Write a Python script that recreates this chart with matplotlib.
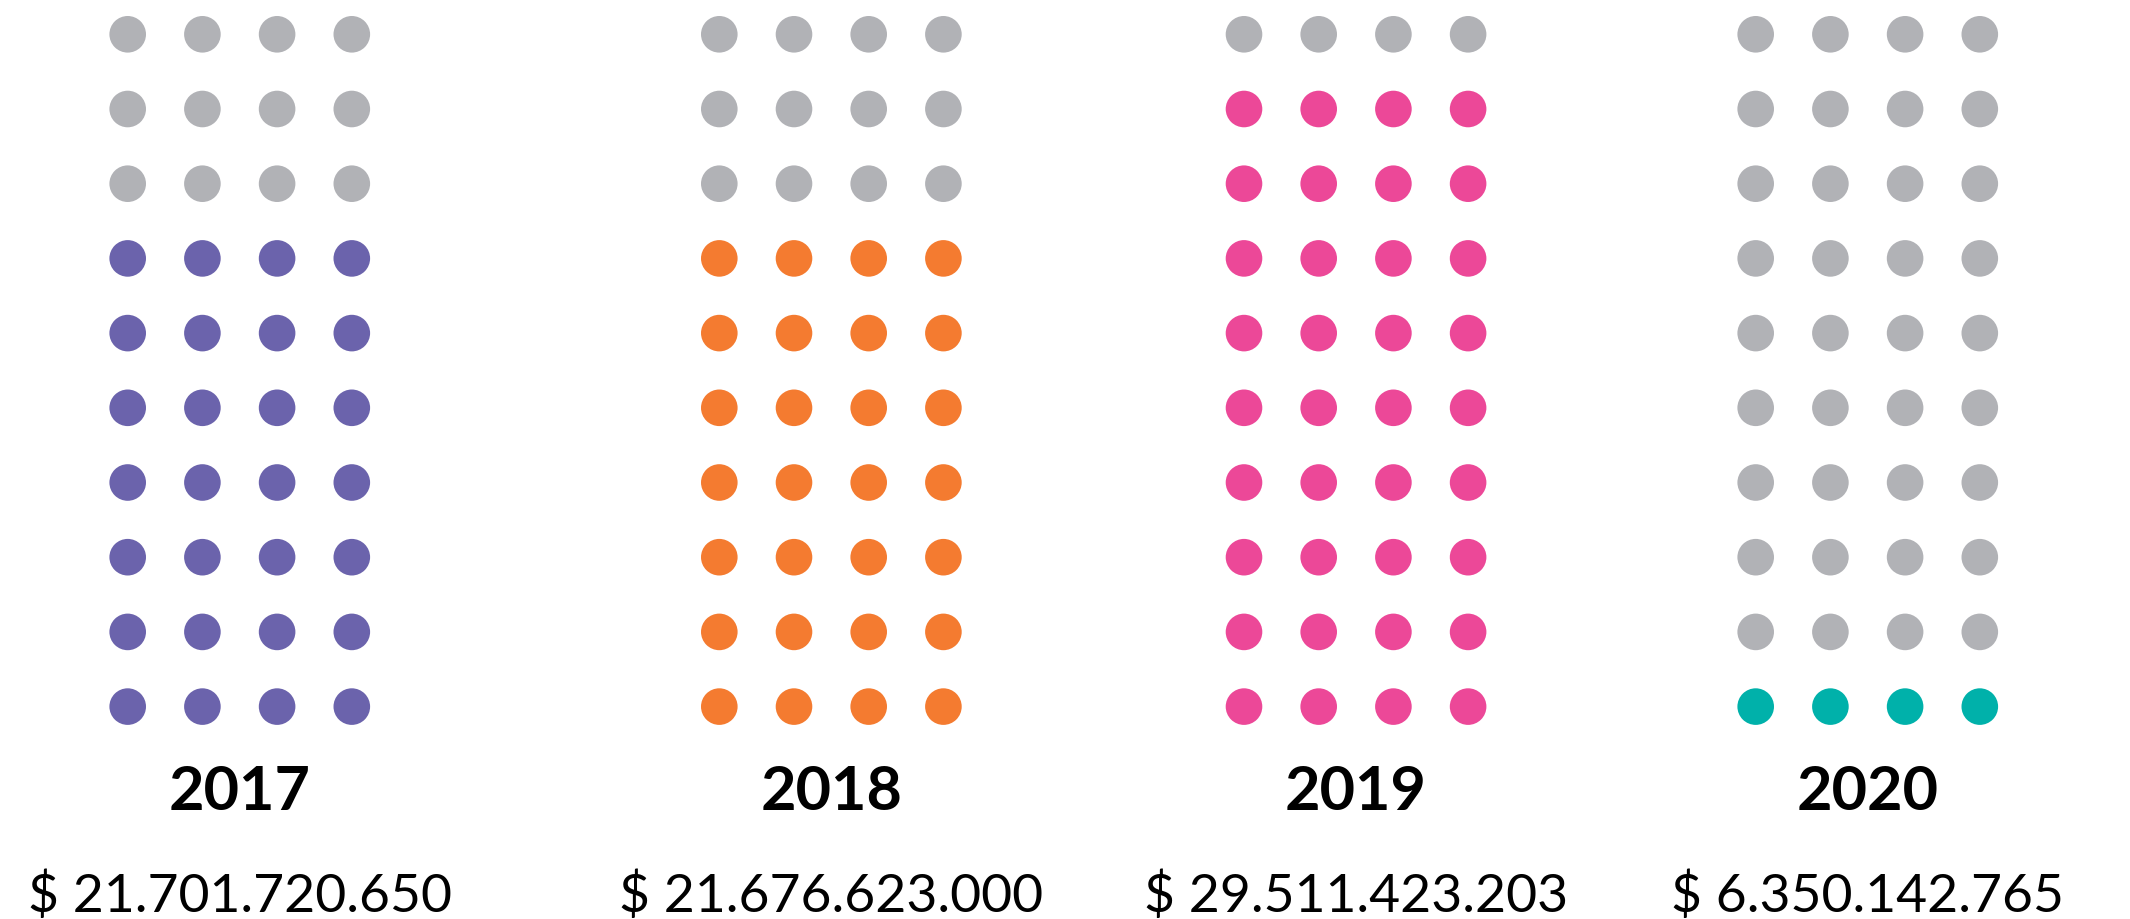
import matplotlib
matplotlib.use("Agg")
import matplotlib.pyplot as plt
import numpy as np

# ---- data ----
years = ["2017", "2018", "2019", "2020"]
amounts = ["$ 21.701.720.650", "$ 21.676.623.000", "$ 29.511.423.203", "$ 6.350.142.765"]
filled_dots = [28, 28, 36, 4]          # coloured dots out of 40 per year
total_dots = 40
colors = ["#6B63AC", "#F47B30", "#EC4898", "#00B1AA"]
empty_color = "#B1B2B6"

# ---- layout ----
W, H, DPI = 2130, 919, 100
n_cols, n_rows = 4, 10
spacing = 74.7                      # px between dot centres
first_col_px = [127.7, 719.3, 1244.0, 1755.7]
first_row_px = 34.3
dot_radius_px = 18.3
font = "Lato"

fig = plt.figure(figsize=(W / DPI, H / DPI), dpi=DPI)
fig.patch.set_facecolor("white")

dot_size = (2 * dot_radius_px * 72 / DPI) ** 2

for i, year in enumerate(years):
    left = (first_col_px[i] - 0.5 * spacing) / W
    width = n_cols * spacing / W
    top = (first_row_px - 0.5 * spacing) / H
    height = n_rows * spacing / H
    ax = fig.add_axes([left, 1 - top - height, width, height])
    ax.set_xlim(-0.5, n_cols - 0.5)
    ax.set_ylim(n_rows - 0.5, -0.5)
    ax.axis("off")

    idx = np.arange(total_dots)
    rows = idx // n_cols
    cols = idx % n_cols
    # filled dots occupy the bottom of the grid
    is_filled = idx >= total_dots - filled_dots[i]
    dot_colors = [colors[i] if f else empty_color for f in is_filled]
    ax.scatter(cols, rows, s=dot_size, c=dot_colors, linewidths=0, clip_on=False)

    cx = (n_cols - 1) / 2
    ax.text(cx, 10.38, year, ha="center", va="baseline", fontsize=44,
            fontweight="bold", family=font, color="black", clip_on=False)
    ax.text(cx, 11.75, amounts[i], ha="center", va="baseline", fontsize=38.5,
            family=font, color="black", clip_on=False)

fig.savefig("out.png", dpi=DPI, facecolor="white")
